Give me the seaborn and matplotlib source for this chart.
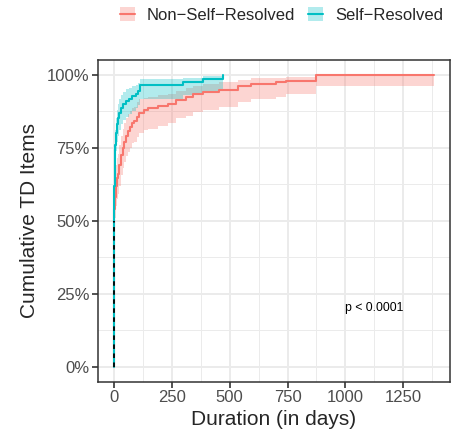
import matplotlib
matplotlib.use("Agg")
import matplotlib.pyplot as plt
import numpy as np
import pandas as pd
import seaborn as sns
from matplotlib.lines import Line2D
from matplotlib.patches import Patch
from matplotlib.ticker import MultipleLocator, PercentFormatter

# Self-Resolved: step times (days), cumulative share and confidence band
self_t = [0, 1, 2, 3, 5, 8, 12, 16, 22, 30, 40, 52, 65, 80, 95, 102, 112, 297, 383, 470]
self_est = [0, 0.50, 0.62, 0.70, 0.76, 0.80, 0.83, 0.85, 0.87, 0.886, 0.90, 0.909,
            0.918, 0.926, 0.935, 0.943, 0.966, 0.975, 0.985, 1.0]
self_lo = [0, 0.44, 0.56, 0.64, 0.70, 0.74, 0.77, 0.79, 0.81, 0.83, 0.845, 0.855,
           0.865, 0.875, 0.885, 0.895, 0.918, 0.93, 0.945, 0.945]
self_hi = [0, 0.56, 0.68, 0.76, 0.81, 0.85, 0.88, 0.90, 0.915, 0.93, 0.94, 0.95,
           0.955, 0.96, 0.965, 0.97, 0.985, 0.99, 0.995, 1.0]

# Non-Self-Resolved
non_t = [0, 1, 2, 4, 8, 12, 16, 22, 30, 38, 45, 52, 59, 68, 76, 88, 100, 110, 130,
         146, 189, 232, 268, 313, 341, 384, 456, 536, 593, 701, 745, 871, 1381]
non_est = [0, 0.50, 0.54, 0.58, 0.62, 0.645, 0.66, 0.69, 0.726, 0.75, 0.77, 0.79,
           0.806, 0.82, 0.834, 0.84, 0.855, 0.869, 0.878, 0.886, 0.891, 0.90, 0.914,
           0.923, 0.934, 0.94, 0.949, 0.96, 0.968, 0.974, 0.979, 1.0, 1.0]
non_lo = [0, 0.43, 0.47, 0.51, 0.55, 0.575, 0.59, 0.62, 0.655, 0.68, 0.70, 0.72,
          0.735, 0.75, 0.765, 0.77, 0.785, 0.80, 0.81, 0.815, 0.825, 0.835, 0.85,
          0.86, 0.872, 0.88, 0.89, 0.905, 0.915, 0.925, 0.935, 0.96, 0.96]
non_hi = [0, 0.57, 0.61, 0.65, 0.69, 0.715, 0.73, 0.76, 0.79, 0.815, 0.835, 0.85,
          0.865, 0.875, 0.885, 0.89, 0.905, 0.915, 0.92, 0.925, 0.93, 0.935, 0.945,
          0.955, 0.962, 0.967, 0.975, 0.982, 0.988, 0.99, 0.993, 1.0, 1.0]

groups = ["Non\u2212Self\u2212Resolved", "Self\u2212Resolved"]
colors = {groups[0]: "#F8766D", groups[1]: "#00BFC4"}
pval_text = "p < 0.0001"

df = pd.concat([
    pd.DataFrame({"time": non_t, "est": non_est, "lo": non_lo, "hi": non_hi, "group": groups[0]}),
    pd.DataFrame({"time": self_t, "est": self_est, "lo": self_lo, "hi": self_hi, "group": groups[1]}),
], ignore_index=True)

sns.set_theme(style="white")
plt.rcParams["font.family"] = ["Liberation Sans", "DejaVu Sans"]

fig = plt.figure(figsize=(4.54, 4.37), dpi=100)
ax = fig.add_axes([98 / 454, 1 - 381.5 / 437, 352 / 454, 321.5 / 437])

for g in groups:
    d = df[df.group == g]
    ax.fill_between(d.time, d.lo, d.hi, step="post", color=colors[g], alpha=0.3,
                    linewidth=0, zorder=2)
sns.lineplot(data=df, x="time", y="est", hue="group", palette=colors,
             drawstyle="steps-post", estimator=None, sort=True, legend=False,
             linewidth=1.5, ax=ax, zorder=3)

# median line (time where the curves reach 50%)
med_t = df[df.est >= 0.5].groupby("group").time.min().min()
ax.vlines(med_t, 0, 0.5, colors="black", linestyles=(0, (2.5, 2.5)), linewidth=1.3, zorder=4)

ax.text(1000, 0.2, pval_text, fontsize=8.8, ha="left", va="center", color="black")

ax.set_xlim(-69, 1452)
ax.set_ylim(-0.05, 1.05)
ax.xaxis.set_major_locator(MultipleLocator(250))
ax.xaxis.set_minor_locator(MultipleLocator(125))
ax.yaxis.set_major_locator(MultipleLocator(0.25))
ax.yaxis.set_minor_locator(MultipleLocator(0.125))
ax.yaxis.set_major_formatter(PercentFormatter(1.0, decimals=0))
ax.grid(True, which="major", color="#EBEBEB", linewidth=1.4, zorder=0)
ax.grid(True, which="minor", color="#EBEBEB", linewidth=0.7, zorder=0)
ax.set_axisbelow(True)
for s in ax.spines.values():
    s.set_color("#333333")
    s.set_linewidth(1.1)
ax.tick_params(which="major", length=4, width=1.2, color="#333333", labelsize=12,
               labelcolor="#4D4D4D", pad=2, bottom=True, left=True)
ax.tick_params(which="minor", length=0)
ax.set_xlabel("Duration (in days)", fontsize=15, labelpad=4)
ax.set_ylabel("Cumulative TD Items", fontsize=15, labelpad=6)

handles = [(Patch(facecolor=colors[g], alpha=0.3, linewidth=0),
            Line2D([], [], color=colors[g], linewidth=1.5)) for g in groups]
fig.legend(handles, groups, loc="center", bbox_to_anchor=(0.62, 0.965), ncol=2,
           frameon=False, fontsize=12, handlelength=0.9, handleheight=0.9,
           handletextpad=0.7, columnspacing=0.8)

fig.savefig("out.png", dpi=100)
